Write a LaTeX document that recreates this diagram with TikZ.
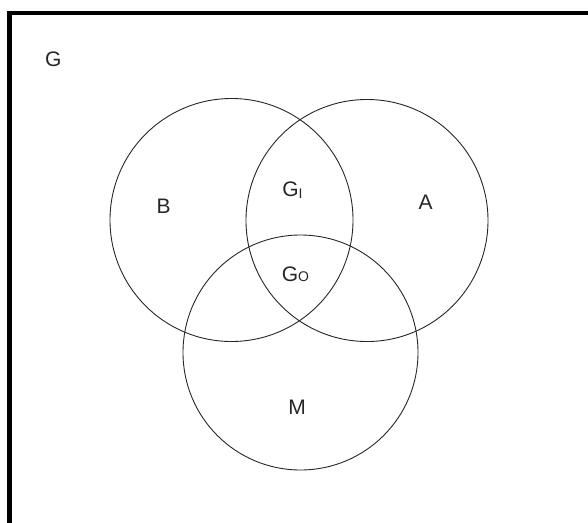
\documentclass[tikz,border=0pt]{standalone}
\usepackage{fontspec}
\setmainfont{Liberation Sans}
\begin{document}
\begin{tikzpicture}[x=1pt,y=-1pt,
  lbl/.style={inner sep=0pt,anchor=base,font=\fontsize{21}{21}\selectfont,text=black!85},
  setc/.style={draw=black!85,line width=0.9pt}]
\useasboundingbox (0,0) rectangle (588,522);
% frame (right and bottom edges lie outside the picture)
\draw[line width=4.5pt] (9.7,530) -- (9.7,13) -- (600,13);
% circles
\coordinate (cB) at (231.5,220);
\coordinate (cA) at (367,220.5);
\coordinate (cM) at (300.5,352.5);
\draw[setc] (cB) circle (121.5);
\draw[setc] (cA) circle (121);
\draw[setc] (cM) circle (117.5);
% labels
\node[lbl] (G) at (53.3,66.7) {G};
\node[lbl] (B) at (163.7,213) {B};
\node[lbl] (A) at (425.7,209.3) {A};
\node[lbl] (M) at (297,414) {M};
\node[lbl] (GI) at (292.5,196.7) {G\raisebox{-1.3pt}{\fontsize{14}{14}\selectfont I}};
\node[lbl] (GO) at (295.5,281.7) {G\fontsize{14}{14}\selectfont O};
\end{tikzpicture}
\end{document}
